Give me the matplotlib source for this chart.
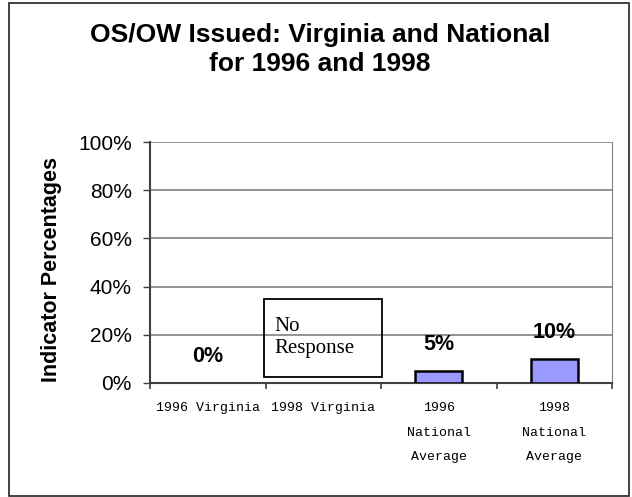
import matplotlib.pyplot as plt
import numpy as np
from matplotlib.patches import Rectangle

# OS/OW Issued chart
categories = ['1996 Virginia', '1998 Virginia', '1996\nNational\nAverage', '1998\nNational\nAverage']
values = [0, np.nan, 5, 10]          # 1998 Virginia: no response
value_labels = ['0%', '', '5%', '10%']
yticks = [0, 20, 40, 60, 80, 100]
no_response_cat = 1

fig = plt.figure(figsize=(6.32, 4.97), dpi=100)
fig.patches.append(Rectangle((9 / 632, 1 / 497), 620 / 632, 493 / 497, transform=fig.transFigure,
                             fill=False, edgecolor='#222222', linewidth=1.2))
ax = fig.add_axes([150 / 632, 114 / 497, 462 / 632, 241 / 497])

x = np.arange(len(categories))
bars = ax.bar(x, values, width=0.41, color='#9999FF', edgecolor='black', linewidth=1.8, zorder=3)
for b in bars:
    if not b.get_height():
        b.set_edgecolor('none')

for xi, v, lab in zip(x, values, value_labels):
    if lab:
        ax.annotate(lab, (xi, v), xytext=(0, 19), textcoords='offset points', ha='center', va='center',
                    fontsize=15.5, fontweight='bold', family='Liberation Sans')

# "No Response" box
ax.add_patch(Rectangle((no_response_cat - 0.51, 2.5), 1.02, 32.5, fill=False, edgecolor='black',
                       linewidth=1.3, zorder=4, clip_on=False))
ax.text(no_response_cat - 0.42, 19, 'No\nResponse', ha='left', va='center', fontsize=15,
        family='Liberation Serif', linespacing=1.2)

ax.set_xlim(-0.5, 3.5)
ax.set_ylim(0, 100)
ax.set_yticks(yticks)
ax.set_yticklabels([f'{t}%' for t in yticks], fontsize=15, family='Liberation Sans')
ax.set_xticks(x)
ax.set_xticklabels(categories, fontsize=9.5, family='Liberation Mono', linespacing=2.35)
ax.set_xticks(np.arange(-0.5, 4, 1), minor=True)
ax.tick_params(axis='x', which='major', length=0, pad=14)
ax.tick_params(axis='x', which='minor', length=4, width=1.2, color='#404040')
ax.tick_params(axis='y', length=5, width=1, color='#404040', pad=8)
for lab in ax.get_xticklabels():
    lab.set_verticalalignment('top')

ax.grid(axis='y', color='#808080', linewidth=1.2, zorder=0)
ax.spines['left'].set_color('#404040')
ax.spines['left'].set_linewidth(1.5)
ax.spines['bottom'].set_color('#404040')
ax.spines['bottom'].set_linewidth(1.5)
ax.spines['right'].set_color('#808080')
ax.spines['top'].set_visible(False)

ax.set_ylabel('Indicator Percentages', fontsize=15.5, fontweight='bold', family='Liberation Sans')
ax.yaxis.set_label_coords(-0.19, 0.472)

fig.text(0.506, 0.900, 'OS/OW Issued: Virginia and National\nfor 1996 and 1998', ha='center', va='center',
         fontsize=19, fontweight='bold', family='Liberation Sans', linespacing=1.25)

plt.savefig('out.png', dpi=100)
